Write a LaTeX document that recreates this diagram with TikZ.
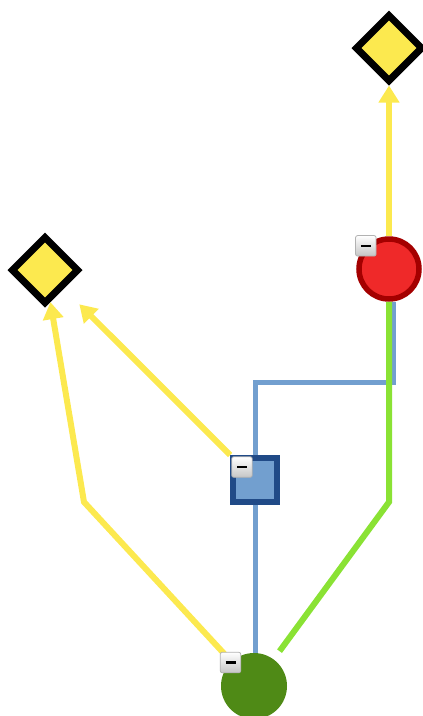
\documentclass[tikz,border=0pt]{standalone}
\usepackage{xcolor}
\usepackage{tikz}
\usetikzlibrary{positioning, arrows.meta, shapes.geometric}

\definecolor{butter}{HTML}{FCE94F}
\definecolor{lime}{HTML}{8AE234}
\definecolor{sky}{HTML}{729FCF}
\definecolor{skydark}{HTML}{204A87}
\definecolor{scarlet}{HTML}{EF2929}
\definecolor{scarletdark}{HTML}{A40000}
\definecolor{leaf}{HTML}{4F8A16}

\begin{document}
\begin{tikzpicture}[
    x=1pt, y=-1pt,
    % Node Styles
    goal/.style={diamond, draw=black, line width=7pt, fill=butter, inner sep=0pt, minimum size=68pt},
    fault/.style={circle, draw=scarletdark, line width=5.5pt, fill=scarlet, inner sep=0pt, minimum size=60pt},
    gate/.style={rectangle, draw=skydark, line width=6pt, fill=sky, inner sep=0pt, minimum size=44pt},
    root/.style={circle, fill=leaf, inner sep=0pt, minimum size=66pt},
    minusbox/.style={rectangle, rounded corners=2pt, draw=gray!60, thick, top color=white, bottom color=gray!45, inner sep=0pt, minimum size=20.5pt},
    % Line & Arrow Styles
    yarrow/.style={draw=butter, line width=6pt, -{Triangle[length=17pt, width=20pt]}},
    bline/.style={draw=sky, line width=5pt},
    gline/.style={draw=lime, line width=6pt}
]
    \useasboundingbox (0,0) rectangle (423,716);

    % Nodes
    \node [goal] (topgoal) at (389,48) {};
    \node [goal] (leftgoal) at (45,270) {};
    \node [fault] (fault) at (389,269) {};
    \node [gate] (gate) at (255,480) {};
    \node [root] (root) at (254,686) {};

    % Bends
    \coordinate (ybend) at (84,502);
    \coordinate (gbend) at (389,502);
    \coordinate (bbend) at (393,382);

    % Connections
    \draw [yarrow] (fault) -- (topgoal);
    \draw [yarrow, shorten <=10pt] (root) -- (ybend) -- (leftgoal);
    \draw [yarrow, shorten >=22pt] (gate) -- (leftgoal);
    \draw [bline] (gate.south |- root.north) -- (gate.south);
    \draw [bline] (gate.north) |- (bbend) -- (bbend |- fault.south);
    \draw [gline, shorten <=10pt] (root) -- (gbend) -- (fault);

    % Collapse buttons
    \node [minusbox] (faultmin) at (fault.north west) {\rule{10pt}{2.5pt}};
    \node [minusbox] (gatemin) at ([shift={(12,12)}]gate.north west) {\rule{10pt}{2.5pt}};
    \node [minusbox] (rootmin) at (root.north west) {\rule{10pt}{2.5pt}};

\end{tikzpicture}
\end{document}
